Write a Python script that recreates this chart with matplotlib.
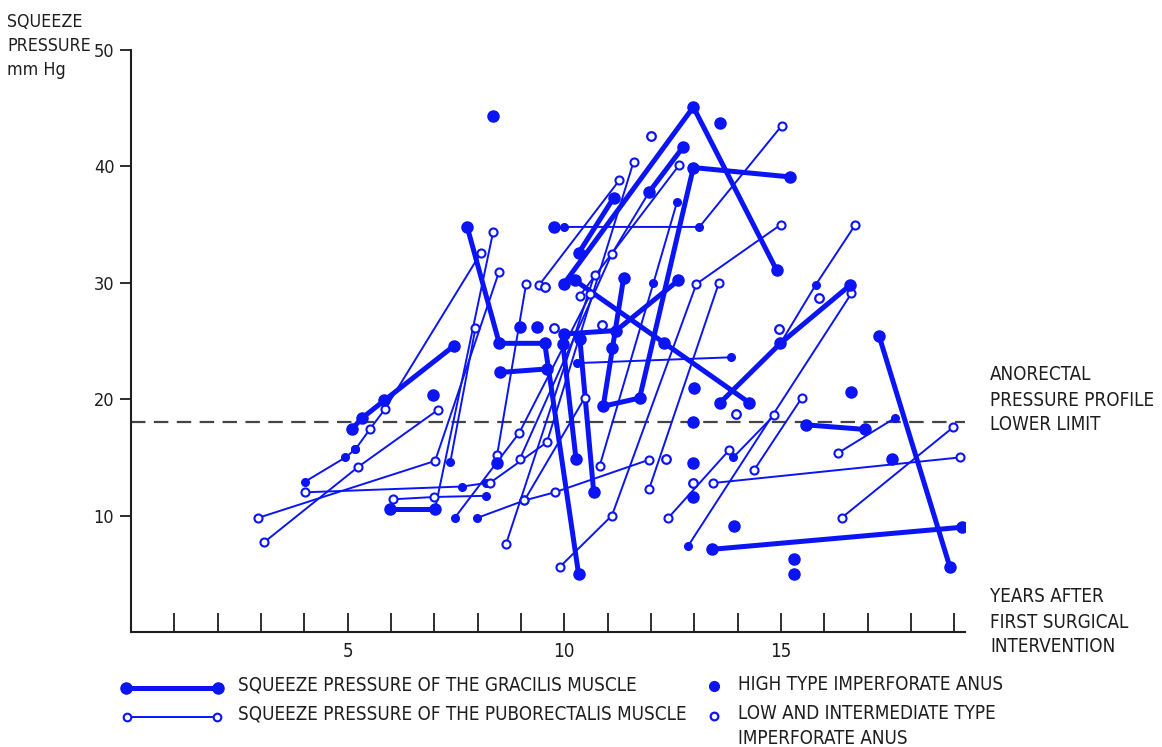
import matplotlib
matplotlib.use("Agg")
import matplotlib.pyplot as plt
from matplotlib.lines import Line2D
from matplotlib import font_manager

# ---------------- data (years after first intervention, squeeze pressure mmHg) ----------------
# Gracilis muscle squeeze pressure: follow-up polylines (high type, filled dots)
gracilis_x = [
    [5.09, 5.34, 5.85, 7.46],
    [7.76, 8.5, 9.55, 10.33],
    [9.99, 12.98, 14.9],
    [10.34, 11.14],
    [11.96, 12.75],
    [11.37, 10.9, 11.74, 12.98, 15.2],
    [9.99, 11.2, 12.63],
    [10.25, 14.27],
    [9.97, 10.27],
    [10.36, 10.68],
    [13.6, 14.99, 16.6],
    [8.52, 9.6],
    [5.98, 7.02],
    [13.4, 19.18],
    [17.27, 18.9],
    [15.57, 16.95],
]
gracilis_y = [
    [17.4, 18.4, 19.9, 24.6],
    [34.8, 24.8, 24.8, 5.0],
    [29.9, 45.1, 31.1],
    [32.6, 37.3],
    [37.8, 41.7],
    [30.4, 19.4, 20.1, 39.9, 39.1],
    [25.6, 25.9, 30.2],
    [30.2, 19.7],
    [24.7, 14.9],
    [25.2, 12.0],
    [19.7, 24.8, 29.8],
    [22.3, 22.6],
    [10.6, 10.6],
    [7.1, 9.0],
    [25.4, 5.6],
    [17.8, 17.4],
]

# Puborectalis muscle squeeze pressure: polylines, with per-point type
# ('f' = high type, 'o' = low / intermediate type)
pubo_x = [
    [2.93, 7.02, 8.49],
    [3.07, 5.25, 7.09],
    [4.01, 4.95, 5.18],
    [5.18, 5.51, 5.87, 8.08],
    [4.01, 7.65, 8.2],
    [6.04, 7.0, 8.2],
    [7.02, 8.36],
    [7.99, 9.08, 9.78, 11.96],
    [7.47, 8.96, 10.6],
    [8.28, 9.6, 11.6],
    [8.66, 10.7],
    [9.9, 11.1, 13.05, 15.0],
    [10.82, 12.06, 12.6],
    [11.96, 13.57],
    [8.98, 11.1, 11.96],
    [9.42, 11.27],
    [10.36, 12.65],
    [9.99, 13.12, 15.02],
    [10.29, 13.85],
    [12.86, 16.63],
    [14.99, 15.8, 16.72],
    [12.4, 13.8],
    [14.38, 15.48],
    [13.9, 14.84],
    [13.44, 19.14],
    [16.4, 18.98],
    [16.33, 17.64],
    [9.12, 8.45],
    [7.37, 7.95],
    [10.47, 9.08],
]
pubo_y = [
    [9.8, 14.7, 30.9],
    [7.7, 14.2, 19.1],
    [12.9, 15.0, 15.7],
    [15.7, 17.4, 19.2, 32.6],
    [12.0, 12.5, 12.8],
    [11.4, 11.6, 11.7],
    [10.6, 34.4],
    [9.8, 11.3, 12.0, 14.8],
    [9.8, 17.1, 29.0],
    [12.8, 16.3, 40.4],
    [7.6, 30.7],
    [5.6, 10.0, 29.9, 35.0],
    [14.3, 30.0, 36.9],
    [12.3, 30.0],
    [14.9, 32.5, 37.8],
    [29.8, 38.8],
    [28.9, 40.1],
    [34.8, 34.8, 43.5],
    [23.1, 23.6],
    [7.4, 29.1],
    [24.8, 29.8, 35.0],
    [9.8, 15.6],
    [13.9, 20.1],
    [15.0, 18.6],
    [12.8, 15.0],
    [9.8, 17.6],
    [15.4, 18.4],
    [29.9, 15.2],
    [14.6, 26.1],
    [20.1, 11.3],
]
pubo_type = [
    "ooo", "ooo", "fff", "fooo", "off", "oof", "fo", "fooo", "foo", "ooo",
    "oo", "oooo", "off", "oo", "oof", "oo", "oo", "ffo", "ff", "fo",
    "ffo", "oo", "oo", "fo", "oo", "oo", "of", "oo", "fo", "oo",
]

# Single measurements without a connecting line
single_high_x = [8.36, 13.6, 9.76, 6.98, 12.99, 16.63, 15.3, 15.3, 13.92, 17.57,
                 12.97, 12.97, 12.97, 8.97, 9.37, 11.1, 12.3, 8.45]
single_high_y = [44.3, 43.7, 34.8, 20.4, 21.0, 20.6, 6.3, 5.0, 9.1, 14.9,
                 18.0, 14.5, 11.6, 26.2, 26.2, 24.4, 24.8, 14.5]
single_low_x = [12.0, 12.97, 13.97, 15.87, 14.96, 9.76, 10.86, 12.36, 9.55]
single_low_y = [42.6, 12.8, 18.7, 28.7, 26.0, 26.1, 26.4, 14.9, 29.6]

lower_limit = 18
y_ticks = [10, 20, 30, 40, 50]
x_ticks = list(range(1, 20))
x_labeled = [5, 10, 15]

# ---------------- styling ----------------
BLUE = "#0a14f5"
INK = "#1e1e1e"
W, H = 1162, 747

names = {f.name for f in font_manager.fontManager.ttflist}
if "Liberation Sans Narrow" in names:
    FONT = dict(family="Liberation Sans Narrow")
else:
    FONT = dict(family="DejaVu Sans", stretch="condensed")
FS = 13.5

fig = plt.figure(figsize=(W / 100, H / 100), dpi=100)
ax = fig.add_axes([131 / W, (H - 632) / H, (965 - 131) / W, (632 - 50) / H])
ax.set_xlim(0, 19.25)
ax.set_ylim(0, 50)

for s in ("top", "right"):
    ax.spines[s].set_visible(False)
for s in ("left", "bottom"):
    ax.spines[s].set_color(INK)
    ax.spines[s].set_linewidth(1.5)

ax.set_xticks(x_ticks)
ax.set_xticklabels([str(t) if t in x_labeled else "" for t in x_ticks], color=INK, **FONT)
ax.set_yticks(y_ticks)
ax.set_yticklabels([str(t) for t in y_ticks], color=INK, **FONT)
ax.tick_params(axis="x", direction="in", length=14, width=1.3, color=INK,
               labelsize=FS, pad=7)
ax.tick_params(axis="y", direction="out", length=8, width=1.3, color=INK,
               labelsize=13, pad=4)

# lower limit of the anorectal pressure profile
ax.axhline(lower_limit, color="#444444", lw=1.6, dashes=(6.5, 3.8), zorder=1)

def draw_markers(xs, ys, kinds, big):
    for x, y, k in zip(xs, ys, kinds):
        if k == "f":
            ax.plot([x], [y], "o", ms=8.0 if big else 5.5, color=BLUE,
                    mec=BLUE, zorder=4)
        else:
            ax.plot([x], [y], "o", ms=5.8, mfc="white", mec=BLUE, mew=1.5,
                    zorder=4)

for xs, ys, kinds in zip(pubo_x, pubo_y, pubo_type):
    ax.plot(xs, ys, "-", color=BLUE, lw=1.4, solid_capstyle="round", zorder=2)
    draw_markers(xs, ys, kinds, big=False)

for xs, ys in zip(gracilis_x, gracilis_y):
    ax.plot(xs, ys, "-", color=BLUE, lw=3.6, solid_capstyle="round", zorder=3)
    draw_markers(xs, ys, "f" * len(xs), big=True)

ax.plot(single_high_x, single_high_y, "o", ms=8.0, color=BLUE, ls="none", zorder=4)
ax.plot(single_low_x, single_low_y, "o", ms=6.2, mfc="white", mec=BLUE,
        mew=1.6, ls="none", zorder=4)

# ---------------- annotations ----------------
def ftext(px, py, s, size=FS, **kw):
    fig.text(px / W, 1 - py / H, s, fontsize=size, color=INK, va="center",
             ha="left", linespacing=1.4, **FONT, **kw)

ftext(7, 46, "SQUEEZE\nPRESSURE\nmm Hg", size=12.8)
ftext(990, 400, "ANORECTAL\nPRESSURE PROFILE\nLOWER LIMIT")
ftext(990, 622, "YEARS AFTER\nFIRST SURGICAL\nINTERVENTION")

# legend
def fline(x0, x1, py, lw, filled):
    yy = 1 - py / H
    fig.add_artist(Line2D([x0 / W, x1 / W], [yy, yy], color=BLUE, lw=lw))
    for px in (x0, x1):
        if filled:
            fig.add_artist(Line2D([px / W], [yy], marker="o", ms=8, color=BLUE, ls="none"))
        else:
            fig.add_artist(Line2D([px / W], [yy], marker="o", ms=5.5, mfc="white",
                                  mec=BLUE, mew=1.5, ls="none"))

fline(126, 218, 688, 3.6, True)
fline(127, 217, 717, 1.4, False)
ftext(238, 685, "SQUEEZE PRESSURE OF THE GRACILIS MUSCLE")
ftext(238, 714, "SQUEEZE PRESSURE OF THE PUBORECTALIS MUSCLE")
fig.add_artist(Line2D([714 / W], [1 - 686 / H], marker="o", ms=7, color=BLUE, ls="none"))
fig.add_artist(Line2D([714 / W], [1 - 716 / H], marker="o", ms=5.5, mfc="white",
                      mec=BLUE, mew=1.6, ls="none"))
ftext(738, 685, "HIGH TYPE IMPERFORATE ANUS")
ftext(738, 726, "LOW AND INTERMEDIATE TYPE\nIMPERFORATE ANUS")

fig.savefig("out.png", dpi=100, facecolor="white")
